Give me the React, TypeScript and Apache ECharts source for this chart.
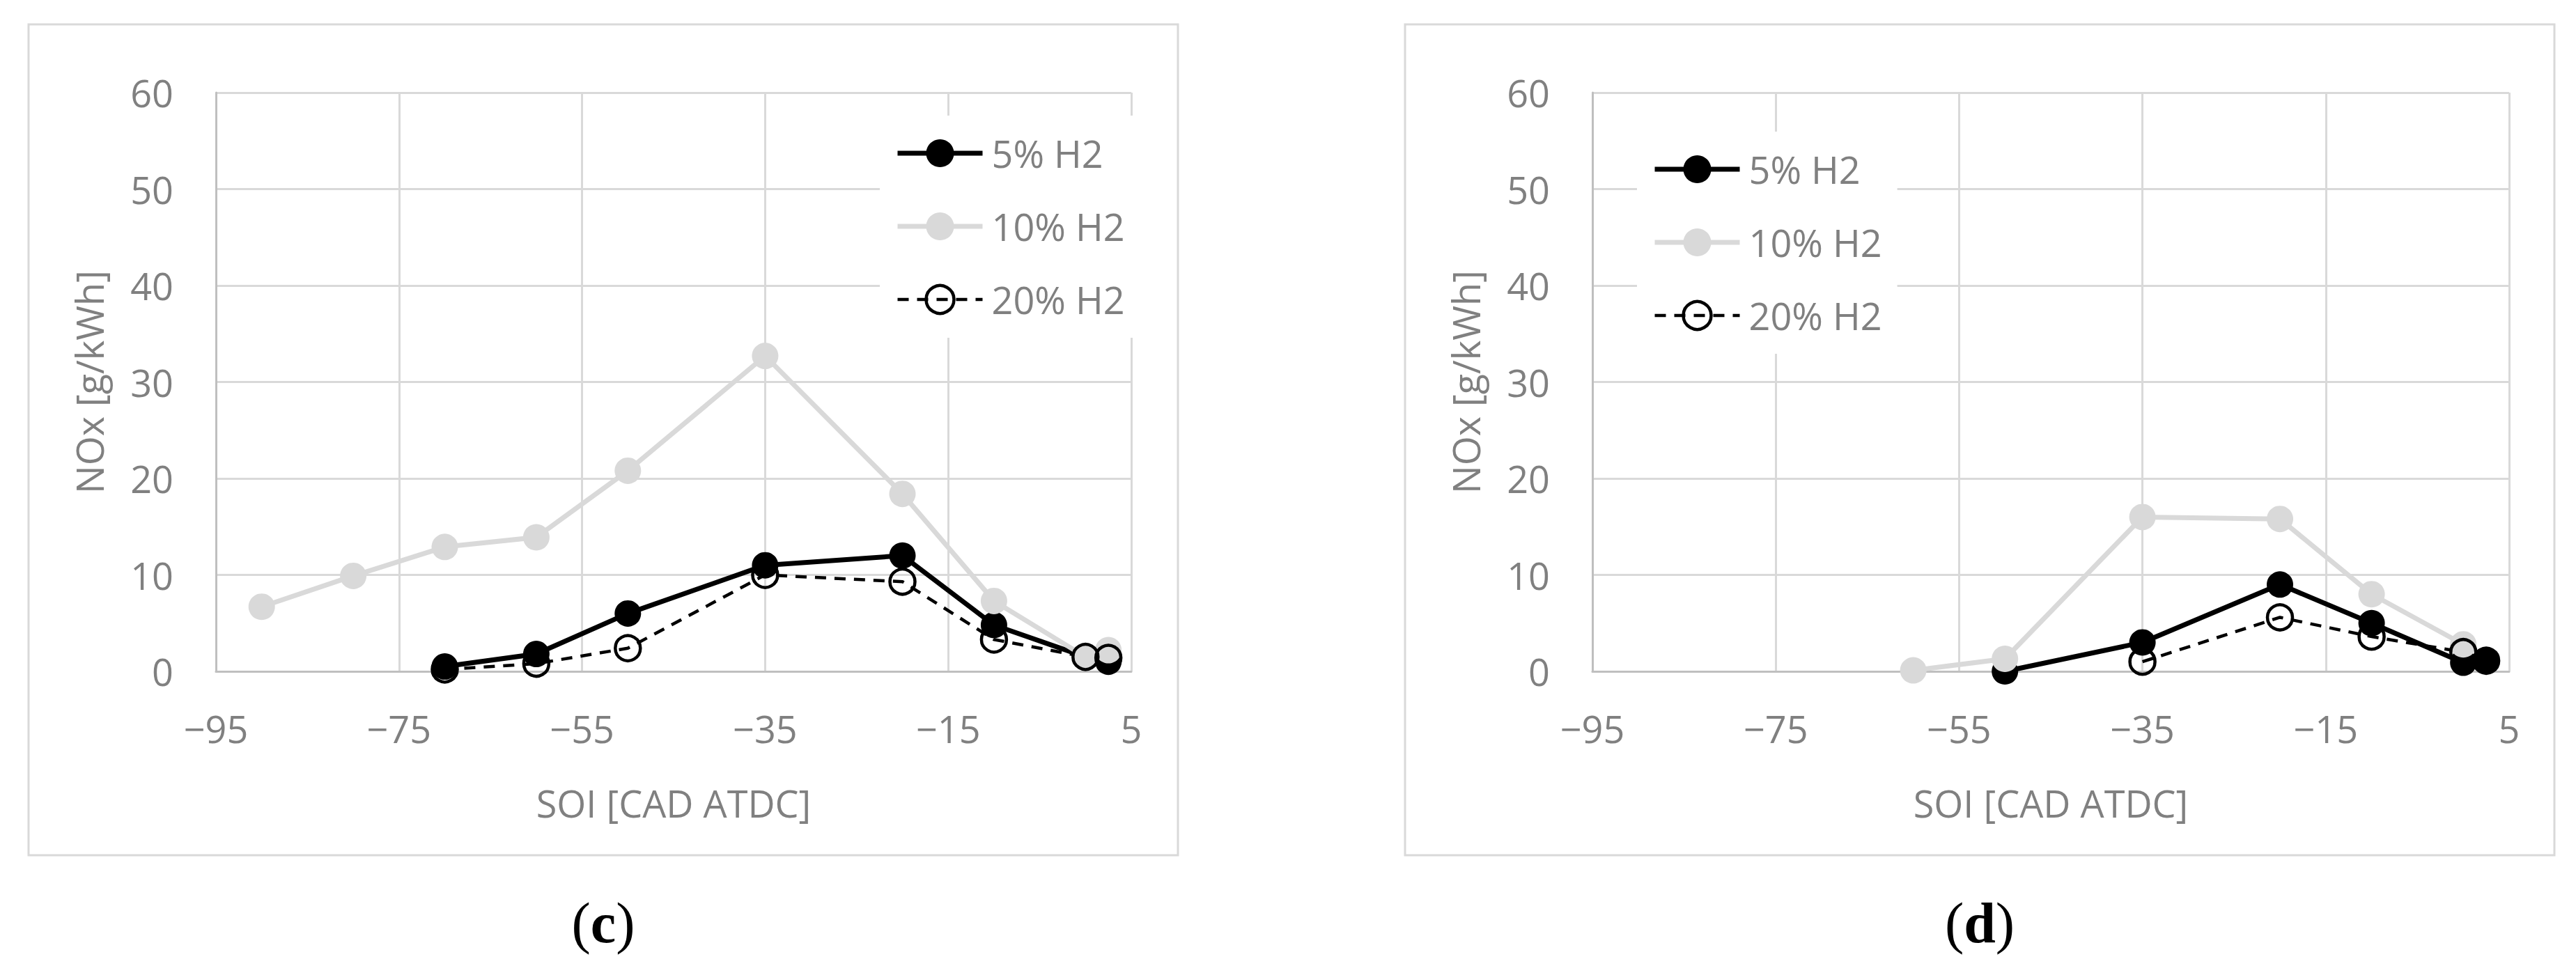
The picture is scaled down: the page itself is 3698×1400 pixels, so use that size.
import React, { useEffect, useRef } from "react";
import * as echarts from "echarts";

// ---- data ----
const seriesNames = ["5% H2", "10% H2", "20% H2"];

// panel (c)
const soiC5 = [-70, -60, -50, -35, -20, -10, 0, 2.5];
const noxC5 = [0.5, 1.8, 6.0, 11.0, 12.0, 4.8, 1.5, 1.0];
const soiC10 = [-90, -80, -70, -60, -50, -35, -20, -10, 0, 2.5];
const noxC10 = [6.7, 9.9, 12.9, 13.9, 20.8, 32.7, 18.4, 7.3, 1.5, 2.2];
const soiC20 = [-70, -60, -50, -35, -20, -10, 0, 2.5];
const noxC20 = [0.2, 0.8, 2.4, 10.0, 9.3, 3.3, 1.5, 1.4];

// panel (d)
const soiD5 = [-50, -35, -20, -10, 0, 2.5];
const noxD5 = [0.0, 3.0, 9.0, 5.0, 0.9, 1.15];
const soiD10 = [-60, -50, -35, -20, -10, 0];
const noxD10 = [0.1, 1.3, 16.0, 15.8, 8.0, 2.8];
const soiD20 = [-35, -20, -10, 0, 2.5];
const noxD20 = [1.0, 5.6, 3.6, 2.0, 1.1];

const xTicks = [-95, -75, -55, -35, -15, 5];
const xMin = -95;
const xMax = 5;
const yMin = 0;
const yMax = 60;
const yStep = 10;

const xTitle = "SOI [CAD ATDC]";
const yTitle = "NOx [g/kWh]";
const captions = ["c", "d"];

// ---- styling ----
const FONT = "'Open Sans', 'DejaVu Sans', sans-serif";
const TXT = "#808080";
const GRID = "#d9d9d9";
const AXIS = "#bfbfbf";

const zip = (xs: number[], ys: number[]) => xs.map((x, i) => [x, ys[i]]);
const fmtX = (v: number) => (v < 0 ? "\u2212" + Math.abs(v) : String(v));

function makeSeries(idx: number, s5: number[][], s10: number[][], s20: number[][]) {
  const common = { type: "line", xAxisIndex: idx, yAxisIndex: idx, clip: false, symbol: "circle" };
  return [
    {
      ...common,
      name: seriesNames[0],
      data: s5,
      symbolSize: 38,
      itemStyle: { color: "#000000" },
      lineStyle: { color: "#000000", width: 7 },
    },
    {
      ...common,
      name: seriesNames[1],
      data: s10,
      symbolSize: 38,
      itemStyle: { color: "#d9d9d9" },
      lineStyle: { color: "#d9d9d9", width: 7 },
    },
    {
      ...common,
      name: seriesNames[2],
      data: s20,
      symbolSize: 36,
      itemStyle: { color: "rgba(0,0,0,0)", borderColor: "#000000", borderWidth: 4.5 },
      lineStyle: { color: "#000000", width: 4.5, type: [16, 12] },
    },
  ];
}

function xAxis(idx: number) {
  return {
    type: "value",
    gridIndex: idx,
    min: xMin,
    max: xMax,
    name: xTitle,
    nameLocation: "middle",
    nameGap: 162,
    nameTextStyle: { fontFamily: FONT, fontSize: 54, color: TXT },
    axisLine: { show: true, onZero: true, lineStyle: { color: AXIS, width: 3 } },
    axisTick: { show: false, customValues: xTicks },
    axisLabel: {
      customValues: xTicks,
      formatter: fmtX,
      margin: 55,
      fontFamily: FONT,
      fontSize: 54,
      color: TXT,
    },
    splitLine: { show: true, lineStyle: { color: GRID, width: 3 } },
  };
}

function yAxis(idx: number) {
  return {
    type: "value",
    gridIndex: idx,
    min: yMin,
    max: yMax,
    interval: yStep,
    name: yTitle,
    nameLocation: "middle",
    nameGap: 155,
    nameTextStyle: { fontFamily: FONT, fontSize: 54, color: TXT },
    axisLine: { show: true, onZero: false, lineStyle: { color: AXIS, width: 3 } },
    axisTick: { show: false },
    axisLabel: { margin: 61, fontFamily: FONT, fontSize: 54, color: TXT },
    splitLine: { show: true, lineStyle: { color: GRID, width: 3 } },
  };
}

function legend(left: number, top: number) {
  return {
    orient: "vertical",
    left,
    top,
    itemWidth: 122,
    itemHeight: 50,
    itemGap: 51,
    padding: [27, 22, 28, 22],
    backgroundColor: "#ffffff",
    selectedMode: false,
    data: seriesNames,
    lineStyle: { width: "inherit", type: "inherit", color: "inherit" },
    itemStyle: { borderWidth: "inherit", borderColor: "inherit", color: "inherit" },
    textStyle: {
      fontFamily: FONT,
      fontSize: 54,
      lineHeight: 54,
      color: TXT,
      padding: [0, 0, 0, 8],
    },
  };
}

function caption(cx: number, letter: string) {
  return {
    type: "text",
    x: cx,
    y: 1325,
    style: {
      text: "{p|(}{b|" + letter + "}{p|)}",
      align: "center",
      verticalAlign: "middle",
      rich: {
        p: { fontFamily: "'Liberation Serif', serif", fontSize: 82, fill: "#000" },
        b: { fontFamily: "'Liberation Serif', serif", fontSize: 82, fontWeight: "bold", fill: "#000" },
      },
    },
  };
}

export default function App() {
  const ref = useRef<HTMLDivElement>(null);

  useEffect(() => {
    if (!ref.current) return;
    const chart = echarts.init(ref.current, undefined, { renderer: "svg" });
    const option = {
      animation: false,
      backgroundColor: "#ffffff",
      grid: [
        { left: 310, top: 133, width: 1314, height: 831 },
        { left: 2286, top: 133, width: 1316, height: 831 },
      ],
      xAxis: [xAxis(0), xAxis(1)],
      yAxis: [yAxis(0), yAxis(1)],
      legend: [legend(1263, 166), legend(2350, 189)],
      series: [
        ...makeSeries(0, zip(soiC5, noxC5), zip(soiC10, noxC10), zip(soiC20, noxC20)),
        ...makeSeries(1, zip(soiD5, noxD5), zip(soiD10, noxD10), zip(soiD20, noxD20)),
      ],
      graphic: [
        {
          type: "rect",
          shape: { x: 41, y: 35, width: 1650, height: 1193 },
          style: { fill: "none", stroke: GRID, lineWidth: 3 },
          silent: true,
        },
        {
          type: "rect",
          shape: { x: 2017, y: 35, width: 1650, height: 1193 },
          style: { fill: "none", stroke: GRID, lineWidth: 3 },
          silent: true,
        },
        caption(866, captions[0]),
        caption(2842, captions[1]),
      ],
    };
    chart.setOption(option as any);
    return () => chart.dispose();
  }, []);

  return (
    <div
      ref={ref}
      style={{ position: "fixed", left: 0, top: 0, width: 3698, height: 1400, background: "#fff" }}
    />
  );
}
